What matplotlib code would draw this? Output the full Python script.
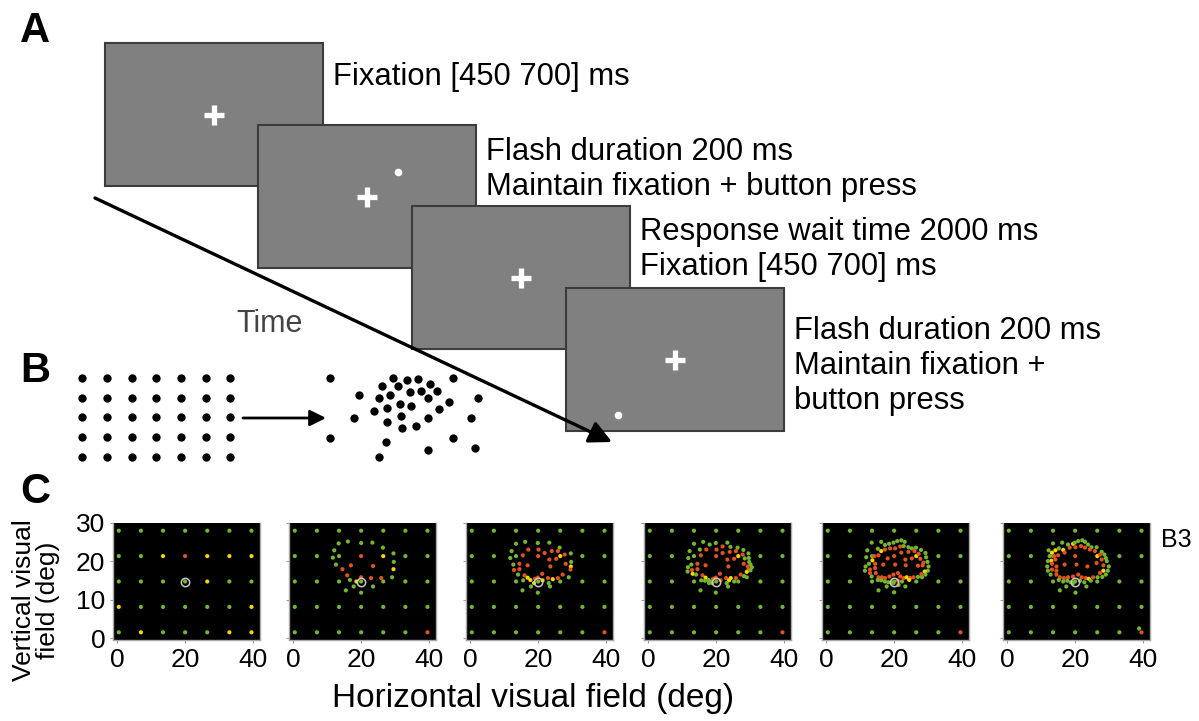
import matplotlib
matplotlib.use("Agg")
import matplotlib.pyplot as plt
from matplotlib.patches import Rectangle
import numpy as np

plt.rcParams['font.family'] = ['Liberation Sans', 'DejaVu Sans']

W, H = 1199, 721

# ---------- panel A: trial sequence (layout in pixel units) ----------
screen_left = [105, 258, 412, 566]
screen_top = [43, 125, 206, 288]
screen_w, screen_h = 218, 143
screen_lines = [
    ["Fixation [450 700] ms"],
    ["Flash duration 200 ms", "Maintain fixation + button press"],
    ["Response wait time 2000 ms", "Fixation [450 700] ms"],
    ["Flash duration 200 ms", "Maintain fixation +", "button press"],
]
text_baseline = [85, 160, 240, 339]
flash_offset = [None, (31, -25), None, (-57, 55)]

# ---------- panel B: regular grid -> warped grid ----------
grid_bx = [82, 107, 132, 156, 181, 206, 230]
grid_by = [378, 398, 417, 437, 457]
warp_x = [330, 393, 407, 418, 453, 382, 398, 430, 359, 379, 390, 410, 421, 437,
          428, 449, 478, 374, 387, 400, 411, 439, 354, 401, 428, 471, 387, 402,
          416, 330, 453, 386, 428, 475, 379]
warp_y = [378, 378, 380, 379, 378, 386, 386, 384, 395, 398, 395, 392, 391, 391,
          398, 402, 398, 411, 408, 404, 406, 409, 418, 416, 418, 418, 422, 428,
          426, 438, 438, 442, 450, 448, 457]

# ---------- panel C: visual field maps (deg) ----------
grid_x = [0.5, 7, 13.5, 20, 26.5, 33, 39.5]
grid_y = [28.0, 21.4, 14.8, 8.2, 1.6]
fix_x, fix_y = 20, 14.8
grid_first = "ggggggg" "ggyryyy" "ggggygg" "ygggggy" "gygggyy"
grid_later = "ggggggg" "gggrygg" "ggggggg" "ggggggg" "ggggggr"

pts2 = [(16.1, 25.2, 'g'), (13.4, 24.7, 'g'), (20.0, 24.8, 'g'), (23.3, 24.9, 'g'),
        (26.4, 23.6, 'g'), (12.1, 22.9, 'g'), (29.5, 22.1, 'g'), (11.7, 21.0, 'g'),
        (29.6, 19.9, 'g'), (12.6, 19.2, 'g'), (17.0, 19.0, 'r'), (23.5, 18.8, 'r'),
        (29.5, 18.0, 'y'), (14.5, 18.0, 'r'), (15.9, 16.4, 'r'), (29.1, 15.9, 'g'),
        (20.0, 15.9, 'r'), (16.7, 15.2, 'g'), (22.9, 15.7, 'r'), (25.9, 15.7, 'r'),
        (18.6, 14.8, 'y'), (17.8, 13.5, 'g'), (23.5, 13.5, 'g'), (15.5, 12.5, 'g'),
        (20.0, 11.9, 'g')]

pts3 = [(16.2, 25.1, 'g'), (13.5, 24.6, 'g'), (19.9, 24.8, 'g'), (23.3, 24.9, 'g'),
        (26.3, 23.6, 'g'), (12.2, 22.7, 'g'), (17.1, 23.1, 'r'), (20.1, 23.1, 'r'),
        (21.9, 22.2, 'r'), (24.0, 22.7, 'r'), (25.8, 22.7, 'r'), (27.8, 21.8, 'r'),
        (29.6, 22.1, 'g'), (15.5, 21.6, 'r'), (11.8, 20.9, 'g'), (23.3, 20.5, 'r'),
        (25.3, 20.7, 'r'), (29.7, 19.9, 'g'), (12.7, 19.2, 'g'), (14.5, 19.4, 'r'),
        (16.9, 19.0, 'r'), (23.6, 18.7, 'r'), (28.1, 19.4, 'r'), (29.6, 18.7, 'y'),
        (29.5, 17.9, 'r'), (14.5, 18.0, 'r'), (12.9, 17.8, 'r'), (14.1, 16.6, 'g'),
        (16.0, 16.4, 'r'), (21.2, 16.8, 'r'), (27.2, 16.6, 'r'), (29.0, 15.9, 'g'),
        (19.9, 15.8, 'r'), (16.9, 15.8, 'y'), (15.6, 15.1, 'g'), (17.7, 15.2, 'y'),
        (19.1, 15.5, 'r'), (18.8, 14.4, 'y'), (21.3, 15.1, 'y'), (22.9, 15.7, 'r'),
        (24.3, 15.4, 'y'), (25.8, 15.7, 'r'), (17.9, 13.5, 'g'), (23.1, 14.4, 'g'),
        (23.5, 13.5, 'g'), (15.4, 12.5, 'g'), (19.9, 11.9, 'g')]

pts4 = [(16.2, 25.1, 'g'), (13.5, 24.6, 'g'), (18.1, 24.4, 'g'), (19.9, 24.8, 'g'),
        (21.9, 23.9, 'r'), (23.3, 24.9, 'g'), (24.2, 23.8, 'g'), (26.3, 23.6, 'g'),
        (28.0, 23.0, 'g'), (12.2, 22.7, 'g'), (15.2, 23.1, 'g'), (17.1, 23.1, 'r'),
        (20.1, 23.1, 'r'), (21.9, 22.2, 'r'), (24.0, 22.5, 'r'), (25.8, 22.7, 'r'),
        (27.8, 21.8, 'r'), (29.5, 22.1, 'g'), (28.4, 20.8, 'g'), (29.6, 20.9, 'g'),
        (15.5, 21.6, 'r'), (11.8, 20.9, 'g'), (23.3, 20.5, 'r'), (25.3, 20.7, 'r'),
        (29.7, 19.9, 'g'), (12.7, 19.2, 'g'), (14.5, 19.4, 'r'), (16.9, 19.0, 'r'),
        (23.6, 18.7, 'r'), (28.1, 19.4, 'r'), (30.1, 19.2, 'g'), (30.5, 18.5, 'g'),
        (29.3, 18.7, 'r'), (29.5, 17.9, 'r'), (30.1, 17.7, 'g'), (11.7, 18.5, 'g'),
        (14.5, 18.0, 'r'), (12.9, 17.8, 'r'), (11.6, 17.4, 'g'), (13.1, 16.8, 'y'),
        (14.1, 16.6, 'g'), (16.0, 16.4, 'r'), (21.1, 16.8, 'r'), (27.2, 16.6, 'r'),
        (29.0, 17.3, 'y'), (28.2, 16.2, 'g'), (29.0, 15.9, 'g'), (19.9, 15.8, 'r'),
        (16.9, 15.8, 'y'), (15.6, 15.1, 'g'), (16.7, 15.0, 'g'), (17.7, 15.2, 'g'),
        (18.3, 14.8, 'g'), (19.1, 15.5, 'r'), (18.8, 14.4, 'g'), (21.3, 15.1, 'r'),
        (22.9, 15.7, 'r'), (24.3, 15.7, 'y'), (23.8, 15.1, 'y'), (25.8, 15.7, 'r'),
        (25.3, 14.8, 'g'), (17.9, 14.4, 'g'), (23.1, 14.4, 'g'), (23.5, 13.5, 'g'),
        (15.4, 12.5, 'g'), (19.9, 11.9, 'g')]

pts5 = [(13.4, 24.9, 'g'), (16.2, 25.1, 'g'), (17.3, 24.3, 'g'), (18.5, 24.6, 'g'),
        (19.8, 24.9, 'g'), (20.9, 25.3, 'g'), (22.1, 25.5, 'g'), (23.1, 25.1, 'g'),
        (22.8, 24.0, 'g'), (24.2, 23.7, 'g'), (25.2, 23.4, 'g'), (26.4, 23.6, 'g'),
        (27.9, 23.0, 'g'), (12.1, 22.9, 'g'), (15.2, 23.3, 'g'), (16.2, 22.7, 'y'),
        (17.3, 23.1, 'r'), (18.8, 23.4, 'r'), (20.3, 23.4, 'r'), (21.8, 23.9, 'r'),
        (22.1, 22.3, 'r'), (24.2, 22.5, 'r'), (26.0, 22.7, 'r'), (27.2, 22.0, 'r'),
        (29.2, 22.2, 'g'), (14.2, 21.4, 'r'), (15.4, 21.6, 'r'), (13.6, 20.3, 'y'),
        (27.7, 20.7, 'r'), (29.4, 21.1, 'g'), (11.8, 21.1, 'g'), (18.1, 20.8, 'r'),
        (23.3, 20.5, 'r'), (25.2, 20.8, 'r'), (28.6, 19.7, 'r'), (29.8, 19.9, 'g'),
        (11.6, 18.7, 'g'), (12.6, 19.4, 'g'), (14.4, 19.4, 'r'), (16.8, 19.2, 'r'),
        (20.3, 19.2, 'r'), (23.4, 19.0, 'r'), (27.0, 18.9, 'r'), (28.4, 19.0, 'r'),
        (30.1, 18.7, 'g'), (12.9, 17.9, 'r'), (14.4, 18.3, 'r'), (11.4, 17.6, 'g'),
        (29.9, 17.6, 'g'), (29.0, 17.4, 'y'), (28.0, 16.7, 'r'), (29.2, 16.6, 'g'),
        (12.9, 17.0, 'r'), (14.6, 17.0, 'r'), (13.4, 16.1, 'g'), (15.4, 15.9, 'r'),
        (16.4, 15.9, 'r'), (17.3, 15.7, 'r'), (18.6, 16.1, 'r'), (19.8, 16.6, 'r'),
        (21.1, 17.0, 'r'), (21.8, 16.1, 'r'), (22.8, 15.7, 'r'), (23.7, 15.9, 'y'),
        (24.7, 15.7, 'r'), (25.7, 15.9, 'r'), (27.0, 16.0, 'g'), (28.2, 15.9, 'g'),
        (15.2, 15.2, 'g'), (16.2, 15.1, 'g'), (17.3, 14.8, 'g'), (18.3, 14.6, 'g'),
        (19.3, 14.5, 'g'), (21.1, 15.0, 'r'), (22.3, 14.8, 'g'), (24.4, 15.2, 'y'),
        (17.8, 13.5, 'g'), (19.8, 14.4, 'g'), (21.3, 13.9, 'g'), (23.3, 13.5, 'g'),
        (15.4, 12.5, 'g'), (20.0, 12.0, 'g')]

pts6 = [(13.5, 24.7, 'g'), (16.2, 24.9, 'g'), (17.9, 24.4, 'g'), (19.4, 24.6, 'y'),
        (19.9, 24.9, 'g'), (20.9, 25.3, 'g'), (22.1, 25.5, 'g'), (22.9, 25.1, 'g'),
        (23.8, 24.4, 'g'), (24.8, 23.7, 'g'), (26.3, 23.7, 'g'), (27.8, 22.5, 'g'),
        (28.6, 21.8, 'g'), (12.2, 22.9, 'g'), (13.2, 22.3, 'y'), (14.2, 22.9, 'y'),
        (15.2, 23.4, 'g'), (16.5, 23.0, 'y'), (16.9, 22.3, 'r'), (18.4, 23.6, 'r'),
        (20.1, 23.7, 'r'), (21.7, 24.0, 'r'), (22.9, 23.6, 'r'), (24.3, 23.1, 'r'),
        (25.8, 22.7, 'r'), (27.3, 21.8, 'r'), (29.0, 20.9, 'g'), (12.5, 21.4, 'g'),
        (13.8, 21.4, 'r'), (15.0, 21.6, 'r'), (13.0, 20.2, 'y'), (12.0, 20.1, 'g'),
        (14.2, 20.5, 'r'), (27.8, 20.5, 'r'), (29.3, 20.1, 'g'), (11.8, 18.7, 'g'),
        (13.2, 19.4, 'r'), (14.5, 18.7, 'r'), (16.9, 19.2, 'r'), (20.4, 19.2, 'r'),
        (23.6, 18.7, 'r'), (26.3, 19.6, 'r'), (28.3, 19.0, 'r'), (29.9, 18.7, 'g'),
        (12.0, 17.6, 'g'), (13.2, 17.9, 'r'), (14.5, 17.6, 'r'), (28.3, 17.6, 'y'),
        (29.6, 17.6, 'g'), (27.3, 17.0, 'r'), (29.0, 16.6, 'g'), (12.8, 16.6, 'g'),
        (14.5, 16.6, 'r'), (15.5, 15.9, 'r'), (16.7, 15.7, 'r'), (17.9, 15.9, 'r'),
        (19.4, 16.1, 'r'), (20.9, 16.6, 'r'), (21.9, 15.9, 'r'), (23.1, 15.7, 'r'),
        (24.0, 15.5, 'y'), (25.3, 15.9, 'r'), (26.6, 15.9, 'g'), (28.0, 16.0, 'g'),
        (15.2, 15.2, 'g'), (16.5, 14.8, 'g'), (17.7, 15.0, 'g'), (18.7, 14.6, 'g'),
        (19.4, 14.4, 'g'), (21.4, 15.0, 'g'), (22.7, 14.6, 'g'), (24.6, 15.0, 'g'),
        (17.4, 13.5, 'g'), (23.3, 13.5, 'g'), (15.5, 12.5, 'g'), (20.1, 11.9, 'g'),
        (38.8, 2.6, 'g')]

panel_pts = [[], pts2, pts3, pts4, pts5, pts6]
panel_grid = [grid_first] + [grid_later] * 5
dot_colors = {'g': '#74b72e', 'y': '#f7d700', 'r': '#e2521d'}

c_left = [113, 289, 466, 644, 822, 1003]
c_top, c_bottom, c_width = 523, 640, 147

fig = plt.figure(figsize=(W / 100, H / 100), dpi=100)
ov = fig.add_axes([0, 0, 1, 1])
ov.set_xlim(0, W)
ov.set_ylim(H, 0)
ov.axis('off')

# panel labels
for lab, yb in zip("ABC", [42, 382, 503]):
    ov.text(20, yb, lab, fontsize=30, fontweight='bold', va='baseline', ha='left')

# screens
for i in range(4):
    x0, y0 = screen_left[i], screen_top[i]
    ov.add_patch(Rectangle((x0, y0), screen_w, screen_h, facecolor='#808080',
                           edgecolor='#3c3c3c', lw=1.5, zorder=2 + i))
    cx, cy = x0 + screen_w / 2, y0 + screen_h / 2
    ov.plot(cx, cy, marker='+', ms=15, mew=3.8, color='white', zorder=2 + i)
    if flash_offset[i] is not None:
        dx, dy = flash_offset[i]
        ov.plot(cx + dx, cy + dy, marker='o', ms=5.5, color='white', mec='none',
                zorder=2 + i)
    for j, line in enumerate(screen_lines[i]):
        ov.text(x0 + screen_w + 10, text_baseline[i] + 35 * j, line, fontsize=22.3,
                va='baseline', ha='left')

# time arrow
ov.annotate("", xy=(612, 442), xytext=(95, 198),
            arrowprops=dict(arrowstyle='-|>', color='black', lw=2.4,
                            mutation_scale=34, shrinkA=0, shrinkB=0), zorder=10)
ov.text(236, 332, "Time", fontsize=22, color='#444444', va='baseline', ha='left')

# panel B
bx = np.tile(grid_bx, len(grid_by))
by = np.repeat(grid_by, len(grid_bx))
ov.scatter(bx, by, s=36, color='black', linewidths=0)
ov.scatter(warp_x, warp_y, s=36, color='black', linewidths=0)
ov.annotate("", xy=(326, 418), xytext=(243, 418),
            arrowprops=dict(arrowstyle='-|>', color='black', lw=2,
                            mutation_scale=24, shrinkA=0, shrinkB=0))

# panel C
gx = np.tile(grid_x, len(grid_y))
gy = np.repeat(grid_y, len(grid_x))
for k in range(6):
    ax = fig.add_axes([c_left[k] / W, (H - c_bottom) / H, c_width / W,
                       (c_bottom - c_top) / H])
    ax.set_facecolor('black')
    ax.scatter(gx, gy, s=9, c=[dot_colors[c] for c in panel_grid[k]], linewidths=0)
    pts = panel_pts[k]
    if pts:
        px = [p[0] for p in pts]
        py = [p[1] for p in pts]
        pc = [dot_colors[p[2]] for p in pts]
        ax.scatter(px, py, s=9, c=pc, linewidths=0)
    ax.plot(fix_x, fix_y, marker='o', ms=6, mfc='none', mec='#c8c8c8', mew=1.1)
    ax.set_xlim(-1.2, 42)
    ax.set_ylim(-0.4, 30)
    ax.set_xticks([0, 20, 40])
    ax.set_yticks([0, 10, 20, 30])
    if k > 0:
        ax.set_yticklabels([])
    ax.tick_params(labelsize=19, direction='out', length=2.5, color='#9a9a9a',
                   pad=3)
    for side in ['left', 'bottom', 'right']:
        ax.spines[side].set_color('#a8a8a8')
        ax.spines[side].set_linewidth(1)
    ax.spines['top'].set_visible(False)

fig.text(1161 / W, (H - 547) / H, "B3", fontsize=18, ha='left', va='baseline')
fig.text(36 / W, (H - 600) / H, "Vertical visual\nfield (deg)", fontsize=19,
         rotation=90, ha='center', va='center', multialignment='center',
         linespacing=1.05)
fig.text(533 / W, (H - 714) / H, "Horizontal visual field (deg)", fontsize=24,
         ha='center', va='bottom')

fig.savefig("out.png", dpi=100)
